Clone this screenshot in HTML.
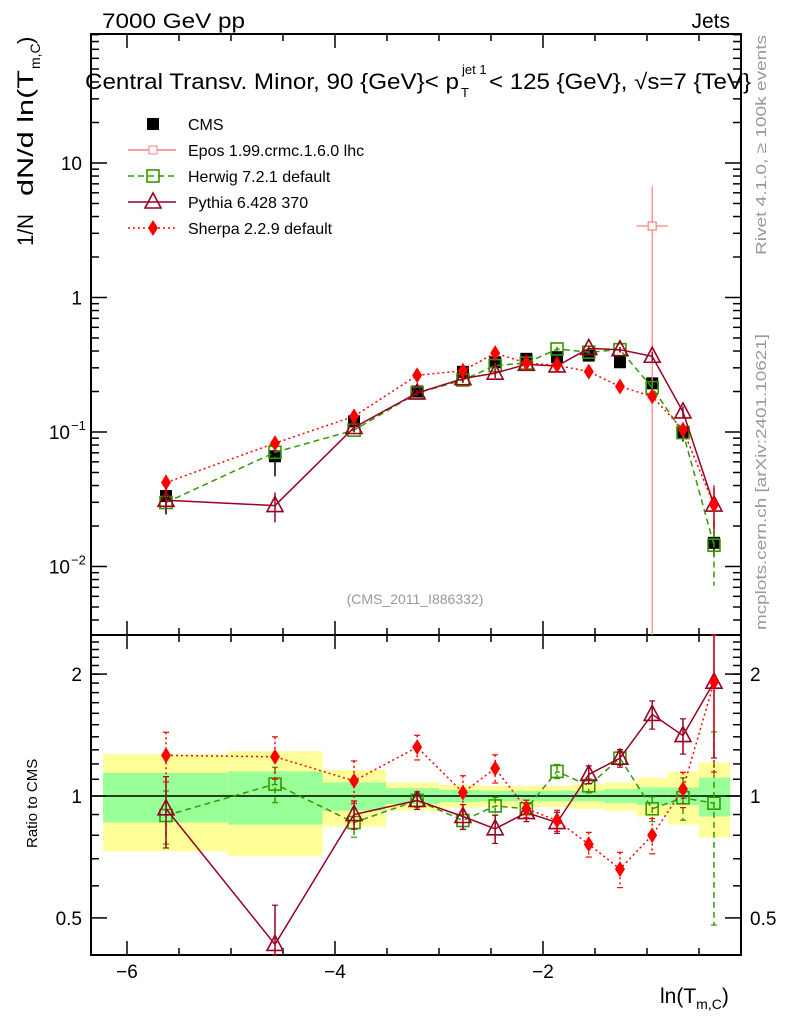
<!DOCTYPE html>
<html><head><meta charset="utf-8"><style>
body{margin:0;background:#fff;}
svg{display:block;font-family:"Liberation Sans",sans-serif;}
</style></head><body>
<svg id="chart" width="786" height="1024" viewBox="0 0 786 1024" xmlns="http://www.w3.org/2000/svg">
<text x="102" y="28" font-size="21" textLength="143" lengthAdjust="spacingAndGlyphs">7000 GeV pp</text>
<text x="730" y="28" font-size="21" text-anchor="end">Jets</text>
<g font-size="22">
<text x="85" y="89" textLength="374" lengthAdjust="spacingAndGlyphs">Central Transv. Minor, 90 {GeV}&lt; p</text>
<text x="462" y="74" font-size="13">jet 1</text>
<text x="461" y="97" font-size="13">T</text>
<text x="489" y="89" textLength="262" lengthAdjust="spacingAndGlyphs">&lt; 125 {GeV}, √s=7 {TeV}</text>
</g>
<g font-size="22">
<text transform="translate(33,246) rotate(-90)" textLength="32" lengthAdjust="spacingAndGlyphs">1/N</text>
<text transform="translate(33,196) rotate(-90)" textLength="126" lengthAdjust="spacingAndGlyphs">dN/d ln(T</text>
<text transform="translate(40,69) rotate(-90)" font-size="14">m,C</text>
<text transform="translate(33,44) rotate(-90)">)</text>
</g>
<text transform="translate(37,848) rotate(-90)" font-size="15">Ratio to CMS</text>
<text x="660" y="1003" font-size="21">ln(T<tspan font-size="14" dy="6">m,C</tspan><tspan dy="-6">)</tspan></text>
<text transform="translate(766,255) rotate(-90)" font-size="15" fill="#999" textLength="220" lengthAdjust="spacingAndGlyphs">Rivet 4.1.0, ≥ 100k events</text>
<text transform="translate(766,630) rotate(-90)" font-size="15" fill="#999" textLength="296" lengthAdjust="spacingAndGlyphs">mcplots.cern.ch [arXiv:2401.10621]</text>
<text x="415" y="604" font-size="14" fill="#999" text-anchor="middle">(CMS_2011_I886332)</text>
<g id="g"></g>
</svg>
<script>
const xs = [-5.625,-4.577,-3.817,-3.21,-2.77,-2.46,-2.16,-1.865,-1.56,-1.26,-0.95,-0.654,-0.356];
const binEdges = [-6.23,-5.03,-4.12,-3.51,-3.0,-2.61,-2.31,-2.01,-1.71,-1.41,-1.10,-0.80,-0.50,-0.20];
const cms = [0.0334,0.066,0.12,0.2,0.28,0.33,0.35,0.36,0.37,0.33,0.23,0.10,0.015];
const statErr = [0.14,0.15,0.08,0.045,0.035,0.03,0.03,0.03,0.03,0.04,0.05,0.05,0.11];
const totErr = [0.27,0.29,0.16,0.08,0.065,0.06,0.06,0.06,0.07,0.08,0.11,0.15,0.21];
const herwigRatio = [0.895,1.07,0.86,0.975,0.87,0.945,0.93,1.15,1.06,1.24,0.93,0.99,0.96];
const pythiaRatio = [0.93,0.43,0.90,0.975,0.89,0.83,0.91,0.86,1.13,1.24,1.59,1.41,1.91];
const sherpaRatio = [1.26,1.25,1.09,1.32,1.02,1.17,0.93,0.87,0.76,0.66,0.80,1.04,1.91];
const herwigErr = [0.15,0.10,0.08,0.04,0.05,0.05,0.05,0.04,0.04,0.04,0.07,0.12,0.5];
const pythiaErr = [0.2,0.25,0.08,0.05,0.07,0.08,0.05,0.06,0.05,0.05,0.08,0.1,0.35];
const sherpaErr = [0.14,0.12,0.12,0.07,0.1,0.08,0.05,0.06,0.07,0.1,0.1,0.1,0.4];
const eposX = [-0.95];
const eposY = [3.4];
const eposXErr = [0.15];
const eposYErr = [3.3];
const xTicks = [-6,-4,-2];
const xTickLabels = ["−6","−4","−2"];

const NS="http://www.w3.org/2000/svg";
const g=document.getElementById('g');
const L=91,R=741,T=34,MB=635,RB=955;
const X=v=>751+104*v;
const Y=v=>163-134.5*(Math.log10(v)-1);
const YR=v=>796-405*Math.log10(v);
function el(t,a,p){const e=document.createElementNS(NS,t);for(const k in a)e.setAttribute(k,a[k]);(p||g).appendChild(e);return e;}
function clipY(y,top,bot){return Math.max(top,Math.min(bot,y));}

for(let i=0;i<cms.length;i++){
  const x0=X(binEdges[i]),x1=X(binEdges[i+1]);
  const b=el('rect',{x:x0,y:YR(1+totErr[i]),width:x1-x0,height:YR(1-totErr[i])-YR(1+totErr[i]),fill:'#ffff99'});
  
  
  const s=el('rect',{x:x0,y:YR(1+statErr[i]),width:x1-x0,height:YR(1-statErr[i])-YR(1+statErr[i]),fill:'#99ff99'});
  
  
}
el('line',{x1:L,x2:R,y1:YR(1),y2:YR(1),stroke:'#000','stroke-width':1.5});

el('rect',{x:L,y:T,width:R-L,height:MB-T,fill:'none',stroke:'#000','stroke-width':2});
el('rect',{x:L,y:MB,width:R-L,height:RB-MB,fill:'none',stroke:'#000','stroke-width':2});
for(let v=-6;v<=-0.1;v+=0.5){
  const maj=Math.abs(v-Math.round(v/2)*2)<1e-6;const len=maj?14:7;const x=X(v);
  [[T,1],[MB,-1],[MB,1],[RB,-1]].forEach(([y,d])=>el('line',{x1:x,x2:x,y1:y,y2:y+d*len,stroke:'#000','stroke-width':1.5}));
}
xTicks.forEach((v,i)=>{const t=el('text',{x:X(v),y:978,'font-size':19,'text-anchor':'middle'});t.textContent=xTickLabels[i];

});
for(let e=-3;e<=1;e++)for(let m=1;m<10;m++){const v=m*Math.pow(10,e);const y=Y(v);if(y<T||y>MB)continue;const len=m==1?16:8;
 el('line',{x1:L,x2:L+len,y1:y,y2:y,stroke:'#000','stroke-width':1.5});el('line',{x1:R,x2:R-len,y1:y,y2:y,stroke:'#000','stroke-width':1.5});}
[[10,'10'],[1,'1']].forEach(([v,s])=>{const t=el('text',{x:82,y:Y(v)+7,'font-size':19,'text-anchor':'end'});t.textContent=s;

});
[[0.1,'−1'],[0.01,'−2']].forEach(([v,s])=>{const t=el('text',{x:70,y:Y(v)+7,'font-size':19,'text-anchor':'end'});t.textContent='10';


const u=el('text',{x:71,y:Y(v)-2,'font-size':13});u.textContent=s;});
[0.5,0.6,0.7,0.8,0.9,1,2].forEach(v=>{const y=YR(v);const len=(v==1||v==2||v==0.5)?16:8;
 el('line',{x1:L,x2:L+len,y1:y,y2:y,stroke:'#000','stroke-width':1.5});el('line',{x1:R,x2:R-len,y1:y,y2:y,stroke:'#000','stroke-width':1.5});});
for(let v=1.1;v<2.45;v+=0.1){const y=YR(v);el('line',{x1:L,x2:L+8,y1:y,y2:y,stroke:'#000','stroke-width':1.5});el('line',{x1:R,x2:R-8,y1:y,y2:y,stroke:'#000','stroke-width':1.5});}
[[2,'2'],[1,'1'],[0.5,'0.5']].forEach(([v,s])=>{[[82,'end'],[750,'start']].forEach(([x,a])=>{const t=el('text',{x:x,y:YR(v)+7,'font-size':19,'text-anchor':a});t.textContent=s;

});});

function marker(type,x,y,col,par){
  if(type==='sq')return el('rect',{x:x-6,y:y-6,width:12,height:12,fill:'none',stroke:col,'stroke-width':1.6},par);
  if(type==='tri')return el('path',{d:`M${x} ${y-9}L${x+8} ${y+6}L${x-8} ${y+6}Z`,fill:'#fff','fill-opacity':0,stroke:col,'stroke-width':1.6},par);
  if(type==='dia')return el('path',{d:`M${x} ${y-8}L${x+5} ${y}L${x} ${y+8}L${x-5} ${y}Z`,fill:col},par);
  if(type==='cms')return el('rect',{x:x-6,y:y-6,width:12,height:12,fill:'#000'},par);
}
const series=[
 {name:'herwig',ratio:herwigRatio,err:herwigErr,col:'#339900',dash:'6,4',m:'sq'},
 {name:'pythia',ratio:pythiaRatio,err:pythiaErr,col:'#990022',dash:'',m:'tri'},
 {name:'sherpa',ratio:sherpaRatio,err:sherpaErr,col:'#ff0000',dash:'2,3',m:'dia'}];

const cg=el('g',{});


cms.forEach((v,i)=>{const x=X(xs[i]);el('line',{x1:x,x2:x,y1:Y(v*(1+totErr[i])),y2:Y(v*(1-totErr[i])),stroke:'#000','stroke-width':1.5},cg);marker('cms',x,Y(v),'#000',cg);});

const eg=el('g',{});


eposX.forEach((v,i)=>{const x=X(v),y=Y(eposY[i]);
 el('line',{x1:x,x2:x,y1:Y(eposY[i]+eposYErr[i]),y2:MB,stroke:'#ff8080','stroke-width':1.2},eg);
 el('line',{x1:X(v-eposXErr[i]),x2:X(v+eposXErr[i]),y1:y,y2:y,stroke:'#ff8080','stroke-width':1.2},eg);
 el('rect',{x:x-4,y:y-4,width:8,height:8,fill:'#fff',stroke:'#ff8080','stroke-width':1.2},eg);});

series.forEach(s=>{
  const mg=el('g',{});
  
  
  const rg=el('g',{});
  
  
  const vals=s.ratio.map((r,i)=>r*cms[i]);
  el('polyline',{points:vals.map((v,i)=>X(xs[i])+','+Y(v)).join(' '),fill:'none',stroke:s.col,'stroke-width':1.5,'stroke-dasharray':s.dash},mg);
  el('polyline',{points:s.ratio.map((v,i)=>X(xs[i])+','+clipY(YR(v),MB,RB)).join(' '),fill:'none',stroke:s.col,'stroke-width':1.5,'stroke-dasharray':s.dash},rg);
  vals.forEach((v,i)=>{const x=X(xs[i]);
    el('line',{x1:x,x2:x,y1:Y(v*(1+s.err[i])),y2:Y(v*(1-s.err[i])),stroke:s.col,'stroke-width':1.5,'stroke-dasharray':s.dash},mg);
    marker(s.m,x,Y(v),s.col,mg);
    const r=s.ratio[i];
    el('line',{x1:x,x2:x,y1:clipY(YR(r*(1+s.err[i])),MB,RB),y2:clipY(YR(r*(1-s.err[i])),MB,RB),stroke:s.col,'stroke-width':1.5,'stroke-dasharray':s.dash},rg);
    el('line',{x1:x-3,x2:x+3,y1:clipY(YR(r*(1+s.err[i])),MB,RB),y2:clipY(YR(r*(1+s.err[i])),MB,RB),stroke:s.col,'stroke-width':1.2},rg);
    el('line',{x1:x-3,x2:x+3,y1:clipY(YR(r*(1-s.err[i])),MB,RB),y2:clipY(YR(r*(1-s.err[i])),MB,RB),stroke:s.col,'stroke-width':1.2},rg);
    marker(s.m,x,YR(r),s.col,rg);
  });
});

const lg=el('g',{});


const leg=[['CMS','cms','#000',''],['Epos 1.99.crmc.1.6.0 lhc','epos','#ff8080',''],['Herwig 7.2.1 default','sq','#339900','6,4'],['Pythia 6.428 370','tri','#990022',''],['Sherpa 2.2.9 default','dia','#ff0000','2,3']];
leg.forEach((e,i)=>{const y=124+i*26;
  if(e[1]!=='cms')el('line',{x1:128,x2:176,y1:y,y2:y,stroke:e[2],'stroke-width':1.5,'stroke-dasharray':e[3]},lg);
  if(e[1]==='epos')el('rect',{x:149,y:y-4,width:8,height:8,fill:'#fff',stroke:e[2]},lg);
  else marker(e[1],153,y,e[2],lg);
  const t=el('text',{x:188,y:y+6,'font-size':16},lg);t.textContent=e[0];
  
  
});
</script>
</body></html>
